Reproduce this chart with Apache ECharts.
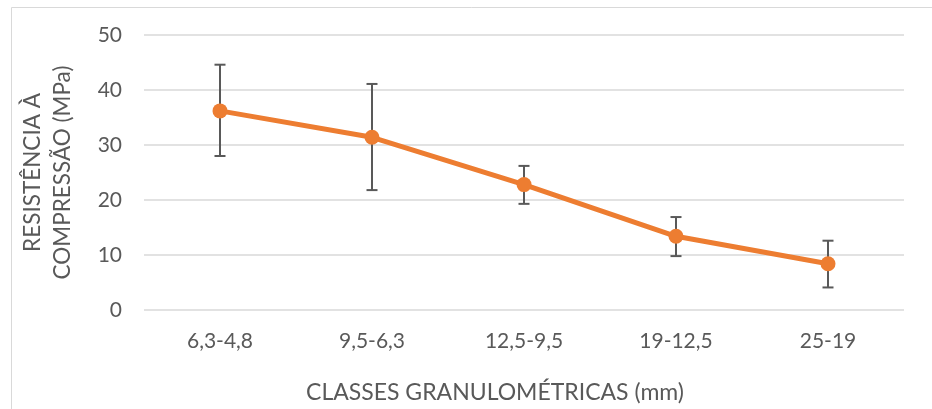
<!DOCTYPE html>
<html>
<head>
<meta charset="utf-8">
<script src="https://cdn.jsdelivr.net/npm/echarts@6/dist/echarts.min.js"></script>
<style>
html,body{margin:0;padding:0;background:#fff;}
#chart{width:932px;height:409px;}
</style>
</head>
<body>
<div id="chart"></div>
<script>
const categories = ['6,3-4,8', '9,5-6,3', '12,5-9,5', '19-12,5', '25-19'];
const means = [36.2, 31.4, 22.8, 13.4, 8.4];
const errHigh = [44.6, 41.1, 26.2, 16.9, 12.6];
const errLow = [28.0, 21.8, 19.3, 9.8, 4.1];
const yTicks = [0, 10, 20, 30, 40, 50];

const FONT = 'Lato, "Open Sans", sans-serif';
const chart = echarts.init(document.getElementById('chart'), null, {renderer: 'canvas'});

const errData = categories.map((c, i) => [i, errLow[i], errHigh[i]]);

chart.setOption({
  animation: false,
  backgroundColor: '#fff',
  textStyle: {fontFamily: FONT},
  graphic: [
    {type: 'line', shape: {x1: 11.5, y1: 7.5, x2: 932, y2: 7.5}, style: {stroke: '#D9D9D9', lineWidth: 1}},
    {type: 'line', shape: {x1: 11.5, y1: 7.5, x2: 11.5, y2: 409}, style: {stroke: '#D9D9D9', lineWidth: 1}}
  ],
  grid: {left: 144, right: 28, top: 35, bottom: 99, containLabel: false},
  xAxis: {
    type: 'category',
    data: categories,
    boundaryGap: true,
    axisLine: {show: false},
    axisTick: {show: false},
    axisLabel: {color: '#595959', fontSize: 21, fontFamily: FONT, margin: 21},
    name: 'CLASSES GRANULOMÉTRICAS (mm)',
    nameLocation: 'middle',
    nameGap: 71,
    nameTextStyle: {color: '#595959', fontSize: 23, fontFamily: FONT, padding: [0, 58, 0, 0]}
  },
  yAxis: {
    type: 'value',
    min: yTicks[0],
    max: yTicks[yTicks.length - 1],
    interval: 10,
    axisLine: {show: false},
    axisTick: {show: false},
    splitLine: {lineStyle: {color: '#D9D9D9', width: 1.5}},
    axisLabel: {color: '#595959', fontSize: 21, fontFamily: FONT, margin: 22},
    name: 'RESISTÊNCIA À\nCOMPRESSÃO (MPa)',
    nameLocation: 'middle',
    nameGap: 66,
    nameRotate: 90,
    nameTextStyle: {color: '#595959', fontSize: 22.5, fontFamily: FONT, lineHeight: 30}
  },
  series: [
    {
      type: 'line',
      data: means,
      symbol: 'circle',
      symbolSize: 15,
      z: 3,
      itemStyle: {color: '#ED7D31'},
      lineStyle: {color: '#ED7D31', width: 5}
    },
    {
      type: 'custom',
      z: 2,
      data: errData,
      renderItem: function (params, api) {
        const x = api.value(0);
        const lo = api.coord([x, api.value(1)]);
        const hi = api.coord([x, api.value(2)]);
        const half = 5.5;
        const style = {stroke: '#595959', lineWidth: 2};
        return {
          type: 'group',
          children: [
            {type: 'line', shape: {x1: lo[0], y1: lo[1], x2: hi[0], y2: hi[1]}, style: style},
            {type: 'line', shape: {x1: hi[0] - half, y1: hi[1], x2: hi[0] + half, y2: hi[1]}, style: style},
            {type: 'line', shape: {x1: lo[0] - half, y1: lo[1], x2: lo[0] + half, y2: lo[1]}, style: style}
          ]
        };
      }
    }
  ]
});
</script>
</body>
</html>
